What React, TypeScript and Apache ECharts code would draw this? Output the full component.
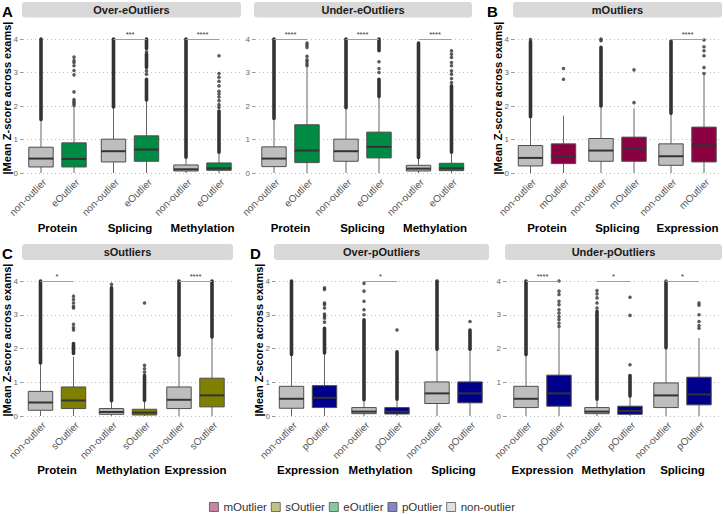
import React, { useEffect, useRef } from 'react';
import * as echarts from 'echarts';

// ---------------- DATA ----------------
const panelTitles = ['Over-eOutliers', 'Under-eOutliers', 'mOutliers', 'sOutliers', 'Over-pOutliers', 'Under-pOutliers'];
const panelOutlierNames = ['eOutlier', 'eOutlier', 'mOutlier', 'sOutlier', 'pOutlier', 'pOutlier'];
const groupsA = ['Protein', 'Splicing', 'Methylation'];
const groupsB = ['Protein', 'Splicing', 'Expression'];
const groupsC = ['Protein', 'Methylation', 'Expression'];
const groupsD = ['Expression', 'Methylation', 'Splicing'];
const yTicks = [0, 1, 2, 3, 4];
const yTitle = '|Mean Z-score across exams|';

// box stats: [lower whisker, Q1, median, Q3, upper whisker] for [non-outlier, outlier] per group
const overE_box = [
  [[0, 0.18, 0.43, 0.77, 1.6], [0, 0.18, 0.42, 0.9, 1.98]],
  [[0, 0.33, 0.65, 1.01, 1.97], [0, 0.35, 0.7, 1.11, 2.18]],
  [[0, 0.06, 0.11, 0.24, 0.47], [0, 0.08, 0.14, 0.3, 0.62]],
];
const overE_dense = [
  [[[1.6, 4.0]], []],
  [[[1.97, 4.0]], [[2.18, 2.8], [3.15, 3.55], [3.72, 4.0]]],
  [[[0.47, 4.0]], [[0.62, 1.85]]],
];
const overE_sparse = [
  [[], [2.02, 2.08, 2.13, 2.19, 2.42, 2.93, 3.06, 3.2, 3.3, 3.36, 3.46]],
  [[], [2.95, 3.05, 3.62]],
  [[], [1.96, 2.04, 2.16, 2.27, 2.36, 2.44, 2.6, 2.74, 2.86, 2.97, 3.5]],
];
const overE_stars = ['', '***', '****'];

const underE_box = [
  [[0, 0.19, 0.43, 0.78, 1.63], [0, 0.31, 0.67, 1.44, 3.15]],
  [[0, 0.35, 0.65, 1.01, 1.95], [0, 0.45, 0.78, 1.22, 2.28]],
  [[0, 0.06, 0.13, 0.23, 0.46], [0, 0.07, 0.14, 0.29, 0.62]],
];
const underE_dense = [
  [[[1.63, 4.0]], []],
  [[[1.95, 4.0]], [[2.28, 2.8], [3.65, 4.0]]],
  [[[0.46, 3.88]], [[0.62, 2.6]]],
];
const underE_sparse = [
  [[], [3.2, 3.26, 3.33, 3.38, 3.48, 3.75, 3.82, 3.88]],
  [[], [3.0, 3.12, 3.32]],
  [[], [2.7, 2.82, 2.95, 3.05, 3.2, 3.3, 3.45, 3.55, 3.65]],
];
const underE_stars = ['****', '****', '****'];

const m_box = [
  [[0, 0.21, 0.45, 0.82, 1.68], [0, 0.28, 0.5, 0.87, 1.71]],
  [[0, 0.35, 0.67, 1.03, 2.0], [0, 0.35, 0.73, 1.07, 1.93]],
  [[0, 0.23, 0.5, 0.87, 1.78], [0, 0.33, 0.83, 1.37, 2.93]],
];
const m_dense = [
  [[[1.68, 3.92]], []],
  [[[2.0, 3.75]], []],
  [[[1.78, 3.93]], []],
];
const m_sparse = [
  [[3.98], [2.8, 3.12]],
  [[3.95, 4.0], [2.1, 3.08]],
  [[], [2.97, 3.15, 3.5, 3.65, 3.77, 3.97]],
];
const m_stars = ['', '', '****'];

const s_box = [
  [[0, 0.17, 0.4, 0.73, 1.57], [0, 0.22, 0.46, 0.86, 1.75]],
  [[0, 0.05, 0.12, 0.22, 0.45], [0, 0.03, 0.1, 0.2, 0.46]],
  [[0, 0.22, 0.48, 0.86, 1.8], [0, 0.27, 0.61, 1.12, 2.34]],
];
const s_dense = [
  [[[1.57, 4.0]], [[1.85, 2.15]]],
  [[[0.45, 3.8]], [[0.46, 1.2]]],
  [[[1.8, 4.0]], [[2.34, 4.0]]],
];
const s_sparse = [
  [[], [2.55, 2.62, 2.72, 3.2, 3.25, 3.35, 3.45, 3.55]],
  [[3.9], [1.3, 1.4, 1.5, 3.35]],
  [[], []],
];
const s_stars = ['*', '', '****'];

const overP_box = [
  [[0, 0.23, 0.51, 0.88, 1.82], [0, 0.25, 0.54, 0.9, 1.87]],
  [[0, 0.07, 0.13, 0.25, 0.48], [0, 0.06, 0.13, 0.25, 0.5]],
  [[0, 0.37, 0.67, 1.01, 1.98], [0, 0.39, 0.67, 1.01, 1.98]],
];
const overP_dense = [
  [[[1.82, 4.0]], [[1.87, 2.6]]],
  [[[0.48, 2.85]], [[0.5, 1.9]]],
  [[[1.98, 4.0]], [[1.98, 2.55]]],
];
const overP_sparse = [
  [[], [2.78, 2.9, 2.96, 3.02, 3.2, 3.3, 3.35, 3.75, 3.8]],
  [[3.0, 3.15, 3.4, 3.7, 3.93], [2.55]],
  [[], [2.8]],
];
const overP_stars = ['', '*', ''];

const underP_box = [
  [[0, 0.25, 0.51, 0.88, 1.82], [0, 0.29, 0.67, 1.21, 2.6]],
  [[0, 0.07, 0.13, 0.25, 0.5], [0, 0.05, 0.15, 0.29, 0.59]],
  [[0, 0.25, 0.61, 0.98, 2.02], [0, 0.33, 0.64, 1.15, 2.31]],
];
const underP_dense = [
  [[[1.82, 4.0]], []],
  [[[0.5, 3.1]], [[0.59, 1.2]]],
  [[[2.02, 3.95]], []],
];
const underP_sparse = [
  [[], [2.65, 2.75, 2.86, 2.95, 3.05, 3.15, 3.3, 3.4, 3.6, 3.7, 4.0]],
  [[3.2, 3.35, 3.5, 3.62, 3.72], [1.52, 2.98, 3.52]],
  [[4.0], [2.6, 2.68, 2.8, 3.0, 3.28, 3.35]],
];
const underP_stars = ['****', '*', '*'];

const legendNames = ['mOutlier', 'sOutlier', 'eOutlier', 'pOutlier', 'non-outlier'];

// ---------------- STYLE / LAYOUT ----------------
const FONT = "'Liberation Sans', Arial, sans-serif";
const NON_COLOR = '#BEBEBE';
const OUT_COLORS: Record<string, string> = {
  eOutlier: '#008B45',
  mOutlier: '#8B0041',
  sOutlier: '#808000',
  pOutlier: '#00008B',
};
const LEGEND_COLORS = ['#B9668D', '#B3B366', '#66B98F', '#6666B9', '#D8D8D8'];
const ROWS = [
  { top: 39, height: 134, stripTop: 2, stripH: 15.5, titleY: 98, nameGap: 49, letterY: 11 },
  { top: 281, height: 135, stripTop: 244, stripH: 16, titleY: 340, nameGap: 48, letterY: 253 },
];
const PAIR_GAP = 33;

type PanelDef = {
  row: number; left: number; right: number; centers: number[];
  groups: string[]; box: number[][][]; dense: number[][][][]; sparse: number[][][]; stars: string[];
  letter: string; letterX: number; yTitle: boolean;
};

const panels: PanelDef[] = [
  { row: 0, left: 23, right: 241, centers: [57.5, 130, 202.5], groups: groupsA, box: overE_box, dense: overE_dense, sparse: overE_sparse, stars: overE_stars, letter: 'A', letterX: 2, yTitle: true },
  { row: 0, left: 255, right: 472, centers: [290.5, 362.5, 435], groups: groupsA, box: underE_box, dense: underE_dense, sparse: underE_sparse, stars: underE_stars, letter: '', letterX: 0, yTitle: false },
  { row: 0, left: 514, right: 722, centers: [547, 617.5, 687.5], groups: groupsB, box: m_box, dense: m_dense, sparse: m_sparse, stars: m_stars, letter: 'B', letterX: 487, yTitle: true },
  { row: 1, left: 23, right: 233, centers: [57, 128, 195.5], groups: groupsC, box: s_box, dense: s_dense, sparse: s_sparse, stars: s_stars, letter: 'C', letterX: 2, yTitle: true },
  { row: 1, left: 275, right: 489, centers: [308, 380.5, 453.5], groups: groupsD, box: overP_box, dense: overP_dense, sparse: overP_sparse, stars: overP_stars, letter: 'D', letterX: 250, yTitle: true },
  { row: 1, left: 506, right: 722, centers: [542.5, 613.5, 682.5], groups: groupsD, box: underP_box, dense: underP_dense, sparse: underP_sparse, stars: underP_stars, letter: '', letterX: 0, yTitle: false },
];

function buildOption() {
  const grids: any[] = [];
  const xAxes: any[] = [];
  const yAxes: any[] = [];
  const series: any[] = [];
  const graphics: any[] = [];

  panels.forEach((p, pi) => {
    const r = ROWS[p.row];
    const outName = panelOutlierNames[pi];
    const outColor = OUT_COLORS[outName];
    // main grid: y axis + gridlines
    const gi = grids.length;
    grids.push({ left: p.left, top: r.top, width: p.right - p.left, height: r.height });
    xAxes.push({ gridIndex: gi, type: 'value', show: false, min: 0, max: 1 });
    yAxes.push({
      gridIndex: gi, type: 'value', min: yTicks[0], max: yTicks[yTicks.length - 1], interval: 1,
      axisLine: { show: false },
      axisTick: { show: true, length: 3, lineStyle: { color: '#999', width: 1 } },
      axisLabel: { fontSize: 8, color: '#666', margin: 5, fontFamily: FONT },
      splitLine: { show: true, lineStyle: { type: [1, 3], color: '#bdbdbd', width: 1 } },
    });

    // strip
    graphics.push({
      type: 'rect', z: 10,
      shape: { x: p.left - 1, y: r.stripTop, width: p.right - p.left + 1, height: r.stripH, r: 3 },
      style: { fill: '#D9D9D9' },
    });
    graphics.push({
      type: 'text', z: 11,
      x: (p.left - 1 + p.right) / 2, y: r.stripTop + r.stripH / 2,
      style: { text: panelTitles[pi], fontSize: 11, fontWeight: 'bold', fontFamily: FONT, fill: '#1a1a1a', align: 'center', verticalAlign: 'middle' },
    });
    if (p.letter) {
      graphics.push({
        type: 'text', z: 11, x: p.letterX, y: r.letterY,
        style: { text: p.letter, fontSize: 15, fontWeight: 'bold', fontFamily: FONT, fill: '#000', align: 'left', verticalAlign: 'middle' },
      });
    }
    if (p.yTitle) {
      graphics.push({
        type: 'text', z: 11, x: p.left - 16, y: r.titleY, rotation: Math.PI / 2,
        style: { text: yTitle, fontSize: 11, fontWeight: 'bold', fontFamily: FONT, fill: '#000', align: 'center', verticalAlign: 'middle' },
      });
    }

    p.groups.forEach((g, k) => {
      const c = p.centers[k];
      const si = grids.length;
      grids.push({ left: c - PAIR_GAP, top: r.top, width: PAIR_GAP * 2, height: r.height });
      xAxes.push({
        gridIndex: si, type: 'category', data: ['non-outlier', outName],
        axisLine: { show: false }, axisTick: { show: false }, splitLine: { show: false },
        axisLabel: { rotate: 45, interval: 0, fontSize: 10, color: '#555', margin: 4, verticalAlign: 'top', fontFamily: FONT },
        name: g, nameLocation: 'middle', nameGap: r.nameGap,
        nameTextStyle: { fontWeight: 'bold', fontSize: 11.5, color: '#000', fontFamily: FONT },
      });
      yAxes.push({ gridIndex: si, type: 'value', min: 0, max: 4, show: false });

      const boxData = p.box[k].map((b, i) => [i, ...b]);
      series.push({
        type: 'custom', xAxisIndex: si, yAxisIndex: si, clip: false, silent: true,
        data: boxData,
        renderItem: (params: any, api: any) => {
          const x = api.value(0);
          const pMin = api.coord([x, api.value(1)]);
          const pQ1 = api.coord([x, api.value(2)]);
          const pMed = api.coord([x, api.value(3)]);
          const pQ3 = api.coord([x, api.value(4)]);
          const pMax = api.coord([x, api.value(5)]);
          const band = api.size([1, 0])[0];
          const w = band * 0.74;
          const cx = pMed[0];
          const fill = x === 0 ? NON_COLOR : outColor;
          const stroke = '#4d4d4d';
          return {
            type: 'group',
            children: [
              { type: 'line', shape: { x1: cx, y1: pMin[1], x2: cx, y2: pQ1[1] }, style: { stroke: '#666', lineWidth: 1 } },
              { type: 'line', shape: { x1: cx, y1: pQ3[1], x2: cx, y2: pMax[1] }, style: { stroke: '#666', lineWidth: 1 } },
              { type: 'rect', shape: { x: cx - w / 2, y: pQ3[1], width: w, height: pQ1[1] - pQ3[1] }, style: { fill, stroke, lineWidth: 1 } },
              { type: 'line', shape: { x1: cx - w / 2, y1: pMed[1], x2: cx + w / 2, y2: pMed[1] }, style: { stroke: '#333', lineWidth: 2 } },
            ],
          };
        },
      });

      const denseData: number[][] = [];
      p.dense[k].forEach((ranges, i) => ranges.forEach(([lo, hi]) => denseData.push([i, lo, hi])));
      series.push({
        type: 'custom', xAxisIndex: si, yAxisIndex: si, clip: false, silent: true,
        data: denseData,
        renderItem: (params: any, api: any) => {
          const x = api.value(0);
          const top = api.coord([x, api.value(2)]);
          const bot = api.coord([x, api.value(1)]);
          const w = 3.6;
          return {
            type: 'rect',
            shape: { x: top[0] - w / 2, y: top[1] - w / 2, width: w, height: bot[1] - top[1] + w, r: w / 2 },
            style: { fill: '#333' },
          };
        },
      });

      const sparseData: number[][] = [];
      p.sparse[k].forEach((vals, i) => vals.forEach((v) => sparseData.push([i, v])));
      const star = p.stars[k];
      series.push({
        type: 'scatter', xAxisIndex: si, yAxisIndex: si, clip: false, silent: true,
        symbolSize: 3.6, itemStyle: { color: '#333' },
        data: sparseData,
        markLine: star
          ? {
              silent: true, symbol: ['none', 'none'], animation: false,
              lineStyle: { color: '#a0a0a0', width: 1, type: 'solid' },
              label: { show: true, position: 'middle', formatter: star, fontSize: 7.5, color: '#333', distance: 1, fontFamily: FONT },
              emphasis: { disabled: true },
              data: [[{ coord: [0, 4] }, { coord: [1, 4] }]],
            }
          : undefined,
      });
    });
  });

  legendNames.forEach((n, i) => {
    series.push({ type: 'scatter', name: n, data: [], xAxisIndex: 0, yAxisIndex: 0, itemStyle: { color: LEGEND_COLORS[i] } });
  });

  return {
    animation: false,
    textStyle: { fontFamily: FONT },
    grid: grids,
    xAxis: xAxes,
    yAxis: yAxes,
    series,
    graphic: graphics,
    legend: {
      data: legendNames.map((n, i) => ({
        name: n, icon: 'rect',
        itemStyle: { color: LEGEND_COLORS[i], borderColor: '#333', borderWidth: 0.8 },
      })),
      left: 'center', top: 501, itemWidth: 9, itemHeight: 9, itemGap: 4, padding: 0,
      selectedMode: false,
      textStyle: { fontSize: 11.5, color: '#333', fontFamily: FONT },
    },
  };
}

export default function App() {
  const ref = useRef<HTMLDivElement>(null);
  useEffect(() => {
    if (!ref.current) return;
    const chart = echarts.init(ref.current, undefined, { renderer: 'svg' });
    chart.setOption(buildOption() as any);
    return () => chart.dispose();
  }, []);
  return <div ref={ref} style={{ position: 'fixed', left: 0, top: 0, width: 724, height: 514, background: '#fff' }} />;
}
